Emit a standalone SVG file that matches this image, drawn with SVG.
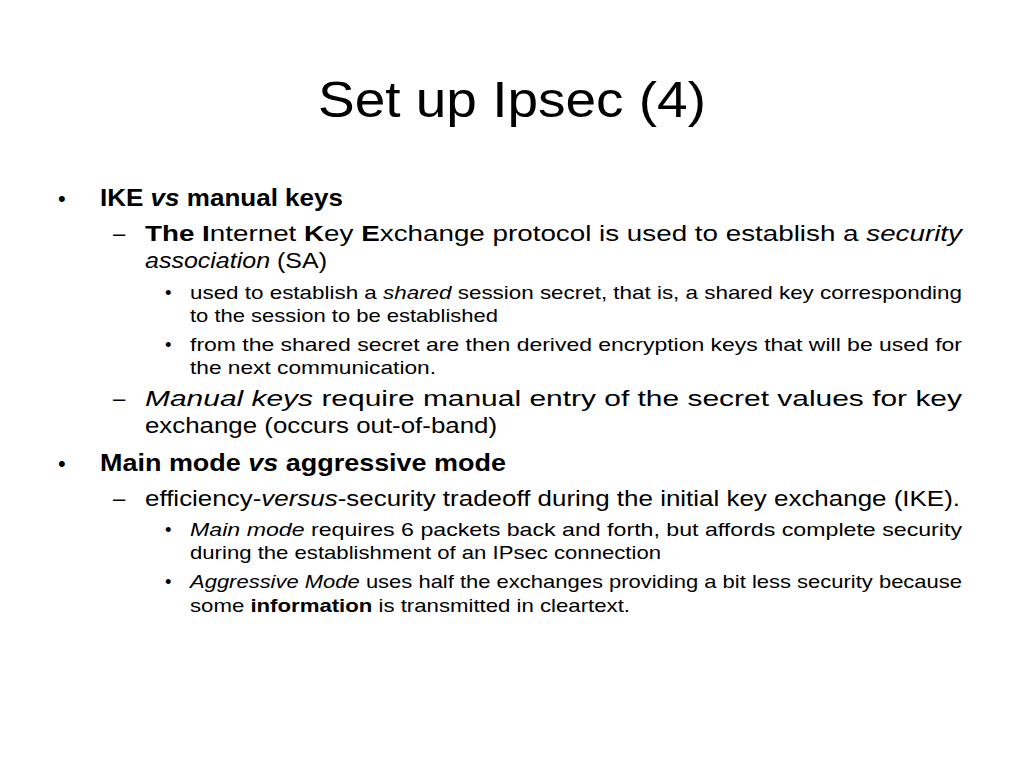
<svg xmlns="http://www.w3.org/2000/svg" width="1024" height="768" viewBox="0 0 1024 768">
<style>
text{font-family:"Liberation Sans","Open Sans",sans-serif;fill:#000}
.t{font-size:50px}
.b1{font-size:24px;font-weight:bold}
.l2{font-size:22px}
.l3{font-size:18.5px}
.bu{font-size:22px}
</style>
<rect width="1024" height="768" fill="#fff"/>
<g id="title"><text class="t" x="318" y="117" textLength="388" lengthAdjust="spacingAndGlyphs">Set up Ipsec (4)</text></g>
<g id="body">
<text class="bu" x="58" y="206">•</text>
<text class="b1" x="100" y="206" textLength="243" lengthAdjust="spacingAndGlyphs">IKE <tspan font-style="italic">vs</tspan> manual keys</text>
<text class="l2" x="113" y="241">–</text>
<text class="l2" x="145" y="241" textLength="817" lengthAdjust="spacingAndGlyphs"><tspan font-weight="bold">The I</tspan>nternet <tspan font-weight="bold">K</tspan>ey <tspan font-weight="bold">E</tspan>xchange protocol is used to establish a <tspan font-style="italic">security</tspan></text>
<text class="l2" x="145" y="268" textLength="182" lengthAdjust="spacingAndGlyphs"><tspan font-style="italic">association</tspan> (SA)</text>
<text class="l3" x="165" y="299">•</text>
<text class="l3" x="190" y="299" textLength="772" lengthAdjust="spacingAndGlyphs">used to establish a <tspan font-style="italic">shared</tspan> session secret, that is, a shared key corresponding</text>
<text class="l3" x="190" y="322" textLength="308" lengthAdjust="spacingAndGlyphs">to the session to be established</text>
<text class="l3" x="165" y="351">•</text>
<text class="l3" x="190" y="351" textLength="772" lengthAdjust="spacingAndGlyphs">from the shared secret are then derived encryption keys that will be used for</text>
<text class="l3" x="190" y="374" textLength="246" lengthAdjust="spacingAndGlyphs">the next communication.</text>
<text class="l2" x="113" y="406">–</text>
<text class="l2" x="145" y="406" textLength="817" lengthAdjust="spacingAndGlyphs"><tspan font-style="italic">Manual keys</tspan> require manual entry of the secret values for key</text>
<text class="l2" x="145" y="433" textLength="352" lengthAdjust="spacingAndGlyphs">exchange (occurs out-of-band)</text>
<text class="bu" x="58" y="471">•</text>
<text class="b1" x="100" y="471" textLength="406" lengthAdjust="spacingAndGlyphs">Main mode <tspan font-style="italic">vs</tspan> aggressive mode</text>
<text class="l2" x="113" y="506">–</text>
<text class="l2" x="145" y="506" textLength="815" lengthAdjust="spacingAndGlyphs">efficiency-<tspan font-style="italic">versus</tspan>-security tradeoff during the initial key exchange (IKE).</text>
<text class="l3" x="165" y="536">•</text>
<text class="l3" x="190" y="536" textLength="772" lengthAdjust="spacingAndGlyphs"><tspan font-style="italic">Main mode</tspan>  requires 6 packets back and forth, but affords complete security</text>
<text class="l3" x="190" y="559" textLength="471" lengthAdjust="spacingAndGlyphs">during the establishment of an IPsec connection</text>
<text class="l3" x="165" y="588">•</text>
<text class="l3" x="190" y="588" textLength="772" lengthAdjust="spacingAndGlyphs"><tspan font-style="italic">Aggressive Mode</tspan> uses half the exchanges providing a bit less security because</text>
<text class="l3" x="190" y="612" textLength="440" lengthAdjust="spacingAndGlyphs">some <tspan font-weight="bold">information</tspan> is transmitted in cleartext.</text>
</g>
</svg>
